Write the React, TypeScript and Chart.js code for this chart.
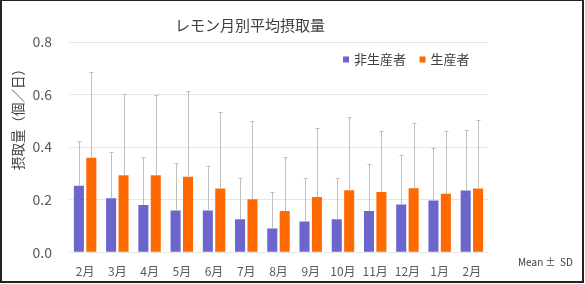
import React, { useEffect, useRef } from "react";
import { Chart, registerables } from "chart.js";

Chart.register(...registerables);

const categories = ["2月", "3月", "4月", "5月", "6月", "7月", "8月", "9月", "10月", "11月", "12月", "1月", "2月"];
const nonProducerMean = [0.253, 0.206, 0.18, 0.159, 0.159, 0.126, 0.091, 0.117, 0.126, 0.157, 0.182, 0.197, 0.235];
const nonProducerSD = [0.169, 0.176, 0.184, 0.179, 0.171, 0.158, 0.138, 0.165, 0.155, 0.177, 0.19, 0.2, 0.232];
const producerMean = [0.36, 0.293, 0.293, 0.287, 0.243, 0.202, 0.157, 0.21, 0.236, 0.229, 0.244, 0.223, 0.243];
const producerSD = [0.325, 0.309, 0.305, 0.328, 0.292, 0.298, 0.206, 0.261, 0.277, 0.234, 0.247, 0.238, 0.26];
const seriesNames = ["非生産者", "生産者"];
const chartTitle = "レモン月別平均摂取量";
const yAxisTitle = "摂取量（個／日）";
const noteText = "Mean ±  SD";

const PURPLE = "#6a66cc";
const ORANGE = "#ff6a00";
const FONT = '"Noto Sans CJK JP", "Noto Sans", sans-serif';

const sdLists = [nonProducerSD, producerSD];
const meanLists = [nonProducerMean, producerMean];
const colors = [PURPLE, ORANGE];

const errorBarPlugin = {
  id: "errorBars",
  afterDatasetsDraw(chart: any) {
    const ctx = chart.ctx;
    const yScale = chart.scales.y;
    ctx.save();
    ctx.strokeStyle = "#bfbfbf";
    ctx.lineWidth = 1;
    chart.data.datasets.forEach((_ds: any, di: number) => {
      const meta = chart.getDatasetMeta(di);
      meta.data.forEach((bar: any, i: number) => {
        const top = yScale.getPixelForValue(meanLists[di][i] + sdLists[di][i]);
        const x = Math.round(bar.x) + 0.5;
        const yt = Math.round(top) + 0.5;
        ctx.beginPath();
        ctx.moveTo(x, bar.y);
        ctx.lineTo(x, yt);
        ctx.moveTo(x - 2, yt);
        ctx.lineTo(x + 2, yt);
        ctx.stroke();
      });
    });
    ctx.restore();
  },
};

const textPlugin = {
  id: "customText",
  afterDraw(chart: any) {
    const ctx = chart.ctx;
    const area = chart.chartArea;
    ctx.save();
    // title
    ctx.fillStyle = "#404040";
    ctx.font = `15px ${FONT}`;
    ctx.textAlign = "center";
    ctx.textBaseline = "middle";
    ctx.fillText(chartTitle, 250, 25);

    // y axis title
    ctx.save();
    ctx.translate(18, 116);
    ctx.rotate(-Math.PI / 2);
    ctx.font = `13.5px ${FONT}`;
    ctx.fillStyle = "#404040";
    ctx.textAlign = "center";
    ctx.textBaseline = "middle";
    ctx.fillText(yAxisTitle, 0, 0);
    ctx.restore();

    // legend
    ctx.font = `13px ${FONT}`;
    ctx.textAlign = "left";
    ctx.textBaseline = "middle";
    let x = area.right - 145;
    const y = area.top + 17.5;
    seriesNames.forEach((name, i) => {
      ctx.fillStyle = colors[i];
      ctx.fillRect(x, y - 3, 6, 6);
      ctx.fillStyle = "#404040";
      ctx.fillText(name, x + 11, y);
      x += 11 + ctx.measureText(name).width + 13.5;
    });

    // note
    ctx.font = `10px ${FONT}`;
    ctx.fillStyle = "#404040";
    ctx.textAlign = "left";
    ctx.fillText(noteText, 518, 262);
    ctx.restore();
  },
};

export default function App() {
  const ref = useRef<HTMLCanvasElement>(null);

  useEffect(() => {
    if (!ref.current) return;
    Chart.defaults.font.family = FONT;
    const chart = new Chart(ref.current, {
      type: "bar",
      data: {
        labels: categories,
        datasets: [
          {
            label: seriesNames[0],
            data: nonProducerMean,
            backgroundColor: PURPLE,
            barPercentage: 0.81,
            categoryPercentage: 0.77,
          },
          {
            label: seriesNames[1],
            data: producerMean,
            backgroundColor: ORANGE,
            barPercentage: 0.81,
            categoryPercentage: 0.77,
          },
        ],
      },
      options: {
        responsive: false,
        animation: false,
        layout: { padding: { left: 0, right: 97, top: 42, bottom: 0 } },
        plugins: {
          legend: { display: false },
          title: { display: false },
          tooltip: { enabled: false },
        },
        scales: {
          x: {
            grid: { display: false },
            border: { display: false },
            ticks: { color: "#595959", font: { size: 12, family: FONT }, padding: 4, maxRotation: 0, autoSkip: false },
            afterFit(scale: any) {
              scale.height = 31.7;
            },
          },
          y: {
            min: 0,
            max: 0.8,
            ticks: {
              stepSize: 0.2,
              color: "#595959",
              font: { size: 14, family: FONT },
              padding: 17,
              callback: (v: any) => Number(v).toFixed(1),
            },
            grid: { color: "#e6e6e6", drawTicks: false },
            border: { display: false },
            afterFit(scale: any) {
              scale.width = 69;
            },
          },
        },
      },
      plugins: [errorBarPlugin, textPlugin],
    });
    return () => chart.destroy();
  }, []);

  return (
    <div style={{ position: "fixed", left: 0, top: 0, width: 585, height: 284, background: "#fff" }}>
      <canvas ref={ref} width={585} height={284} style={{ width: 585, height: 284, display: "block" }} />
      <div
        style={{
          position: "absolute",
          left: 0,
          top: 0,
          width: 584,
          height: 283,
          boxSizing: "border-box",
          borderTop: "1px solid #222",
          borderLeft: "2px solid #222",
          borderBottom: "2px solid #222",
          borderRight: "2px solid #222",
          pointerEvents: "none",
        }}
      />
    </div>
  );
}
